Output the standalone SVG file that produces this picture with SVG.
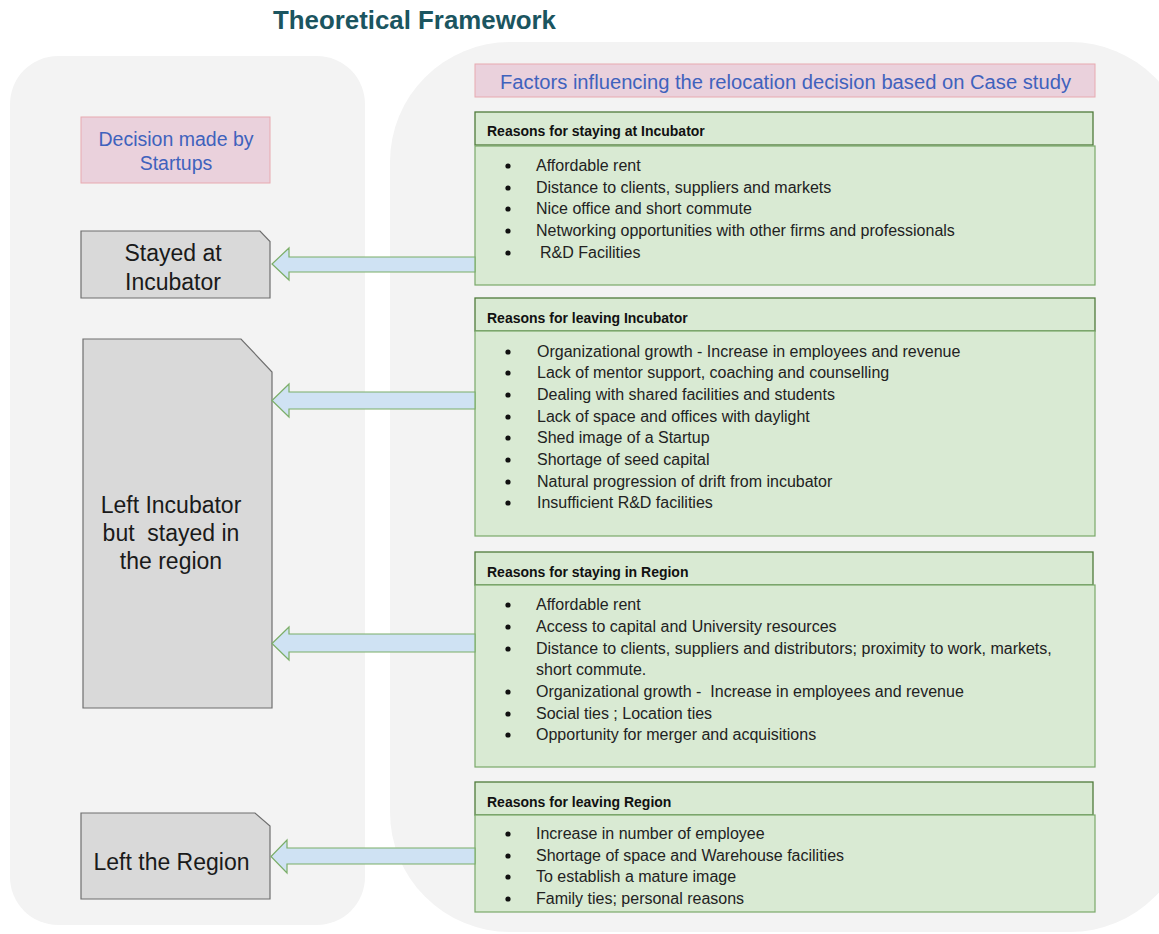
<svg xmlns="http://www.w3.org/2000/svg" width="1159" height="934" viewBox="0 0 1159 934">
  <style>
    text { font-family: "Liberation Sans", Arial, sans-serif; }
    .panel { fill: #f3f3f3; stroke: none; }
    .title { font-size: 26px; font-weight: bold; fill: #1b5560; }
    .pink { fill: #ead1dc; stroke: #e8a9b0; stroke-width: 1; }
    .pinktxt { fill: #3f62bd; }
    .hdr { fill: #d9ead3; stroke: #4f7a3a; stroke-width: 1.3; }
    .body { fill: #d9ead3; stroke: #7aa86a; stroke-width: 1.2; }
    .hdrtxt { font-size: 14px; font-weight: bold; fill: #111; }
    .item { font-size: 16px; fill: #222; }
    .dot { fill: #111; }
    .node { fill: #d9d9d9; stroke: #6f6f6f; stroke-width: 1.2; }
    .nodetxt { font-size: 23px; fill: #1a1a1a; text-anchor: middle; }
    .arrow { fill: #cfe2f3; stroke: #7bae68; stroke-width: 1.2; stroke-linejoin: miter; }
  </style>

  <!-- background panels -->
  <rect class="panel" x="10" y="56" width="355" height="869" rx="48" ry="48"/>
  <rect class="panel" x="390" y="42" width="800" height="890" rx="120" ry="120"/>

  <text class="title" x="273" y="29" textLength="283" lengthAdjust="spacingAndGlyphs">Theoretical Framework</text>

  <!-- column headings -->
  <g id="heading-decision">
    <rect class="pink" x="81" y="117" width="189" height="66"/>
    <text class="pinktxt" x="176" y="146" font-size="19.5" text-anchor="middle">Decision made by</text>
    <text class="pinktxt" x="176" y="170" font-size="19.5" text-anchor="middle">Startups</text>
  </g>
  <g id="heading-factors">
    <rect class="pink" x="475" y="64" width="620" height="33"/>
    <text class="pinktxt" x="500" y="89" font-size="20" textLength="571" lengthAdjust="spacingAndGlyphs">Factors influencing the relocation decision based on Case study</text>
  </g>

  <!-- outcome nodes -->
  <g id="stayed-incubator">
    <path class="node" d="M81 231 H260 L270 241.5 V298 H81 Z"/>
    <text class="nodetxt" x="173" y="261">Stayed at</text>
    <text class="nodetxt" x="173" y="290">Incubator</text>
  </g>
  <g id="left-incubator">
    <path class="node" d="M83 339 H241 L272 372 V708 H83 Z"/>
    <text class="nodetxt" x="171" y="513">Left Incubator</text>
    <text class="nodetxt" x="171" y="541" xml:space="preserve">but  stayed in</text>
    <text class="nodetxt" x="171" y="569">the region</text>
  </g>
  <g id="left-region">
    <path class="node" d="M81 813 H255 L270 826 V899 H81 Z"/>
    <text class="nodetxt" x="171.5" y="870">Left the Region</text>
  </g>

  <!-- reason groups -->
  <g id="staying-incubator">
    <rect class="hdr" x="475" y="112" width="618" height="33"/>
    <text class="hdrtxt" x="487" y="136">Reasons for staying at Incubator</text>
    <rect class="body" x="475" y="146" width="620" height="139"/>
    <g class="dot">
      <circle cx="508" cy="166" r="2.6"/><circle cx="508" cy="188" r="2.6"/><circle cx="508" cy="209" r="2.6"/>
      <circle cx="508" cy="231" r="2.6"/><circle cx="508" cy="253" r="2.6"/>
    </g>
    <text class="item" x="536" y="171">Affordable rent</text>
    <text class="item" x="536" y="193">Distance to clients, suppliers and markets</text>
    <text class="item" x="536" y="214">Nice office and short commute</text>
    <text class="item" x="536" y="236">Networking opportunities with other firms and professionals</text>
    <text class="item" x="540" y="258">R&amp;D Facilities</text>
  </g>

  <g id="leaving-incubator">
    <rect class="hdr" x="475" y="298" width="620" height="33"/>
    <text class="hdrtxt" x="487" y="323">Reasons for leaving Incubator</text>
    <rect class="body" x="475" y="331" width="620" height="205"/>
    <g class="dot">
      <circle cx="508" cy="352" r="2.6"/><circle cx="508" cy="373" r="2.6"/><circle cx="508" cy="395" r="2.6"/>
      <circle cx="508" cy="417" r="2.6"/><circle cx="508" cy="438" r="2.6"/><circle cx="508" cy="460" r="2.6"/>
      <circle cx="508" cy="482" r="2.6"/><circle cx="508" cy="503" r="2.6"/>
    </g>
    <text class="item" x="537" y="357">Organizational growth - Increase in employees and revenue</text>
    <text class="item" x="537" y="378">Lack of mentor support, coaching and counselling</text>
    <text class="item" x="537" y="400">Dealing with shared facilities and students</text>
    <text class="item" x="537" y="422">Lack of space and offices with daylight</text>
    <text class="item" x="537" y="443">Shed image of a Startup</text>
    <text class="item" x="537" y="465">Shortage of seed capital</text>
    <text class="item" x="537" y="487">Natural progression of drift from incubator</text>
    <text class="item" x="537" y="508">Insufficient R&amp;D facilities</text>
  </g>

  <g id="staying-region">
    <rect class="hdr" x="475" y="552" width="618" height="33"/>
    <text class="hdrtxt" x="487" y="577">Reasons for staying in Region</text>
    <rect class="body" x="475" y="585" width="620" height="182"/>
    <g class="dot">
      <circle cx="508" cy="605" r="2.6"/><circle cx="508" cy="627" r="2.6"/><circle cx="508" cy="649" r="2.6"/>
      <circle cx="508" cy="692" r="2.6"/><circle cx="508" cy="714" r="2.6"/><circle cx="508" cy="735" r="2.6"/>
    </g>
    <text class="item" x="536" y="610">Affordable rent</text>
    <text class="item" x="536" y="632">Access to capital and University resources</text>
    <text class="item" x="536" y="654">Distance to clients, suppliers and distributors; proximity to work, markets,</text>
    <text class="item" x="536" y="675">short commute.</text>
    <text class="item" x="536" y="697" xml:space="preserve">Organizational growth -  Increase in employees and revenue</text>
    <text class="item" x="536" y="719">Social ties ; Location ties</text>
    <text class="item" x="536" y="740">Opportunity for merger and acquisitions</text>
  </g>

  <g id="leaving-region">
    <rect class="hdr" x="475" y="782" width="618" height="33"/>
    <text class="hdrtxt" x="487" y="807">Reasons for leaving Region</text>
    <rect class="body" x="475" y="815" width="620" height="97"/>
    <g class="dot">
      <circle cx="508" cy="834" r="2.6"/><circle cx="508" cy="856" r="2.6"/>
      <circle cx="508" cy="877" r="2.6"/><circle cx="508" cy="899" r="2.6"/>
    </g>
    <text class="item" x="536" y="839">Increase in number of employee</text>
    <text class="item" x="536" y="861">Shortage of space and Warehouse facilities</text>
    <text class="item" x="536" y="882">To establish a mature image</text>
    <text class="item" x="536" y="904">Family ties; personal reasons</text>
  </g>

  <!-- block arrows from reasons to outcomes -->
  <g id="connectors">
    <path class="arrow" d="M475 257 H289 V248 L272 264 L289 280 V272 H475 Z"/>
    <path class="arrow" d="M475 392 H289 V384 L272 400.5 L289 417 V409 H475 Z"/>
    <path class="arrow" d="M475 634 H289 V627 L272 643.5 L289 660 V652 H475 Z"/>
    <path class="arrow" d="M475 848 H287 V840 L271 856.5 L287 873 V864 H475 Z"/>
  </g>
</svg>
